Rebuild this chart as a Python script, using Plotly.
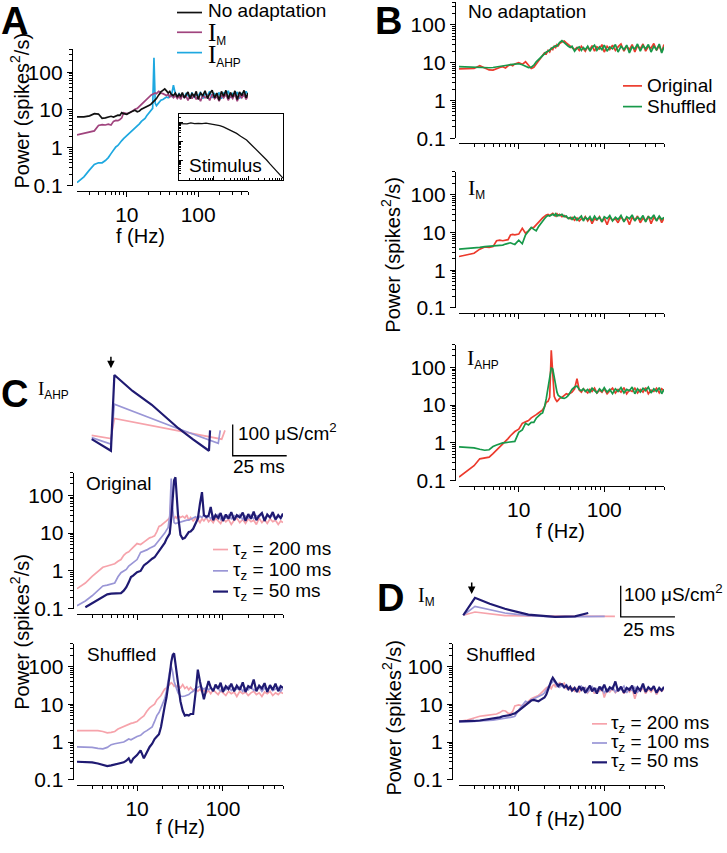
import numpy as np
import plotly.graph_objects as go

W, H = 727, 853
FONT = "Liberation Sans, Arial, Helvetica, sans-serif"

# ---------------- shared frequency grid (Hz) ----------------
FREQ = [2, 2.5, 3, 3.5, 4, 4.5, 5, 5.5, 6, 6.5,
        7, 7.5, 8, 8.5, 9, 10, 11, 12, 13, 14,
        15, 16, 17, 18, 19, 20, 21, 22, 23, 24,
        25, 26, 27, 28, 29, 30, 32, 34, 36, 38,
        40, 42, 45, 48, 51, 54, 57, 60, 64, 68,
        72, 77, 82, 88, 94, 100, 108, 116, 125, 135,
        145, 157, 170, 183, 197, 212, 228, 245, 264, 284,
        305, 328, 353, 380, 409, 440, 470, 500]

# ---------------- Panel A ----------------
A_NOADAPT = [6.6, 6.6, 7.0, 8.0, 7.8, 6.0, 6.2, 6.6, 6.8, 6.5,
             7.0, 7.3, 7.2, 8.5, 8.0, 7.7, 8.6, 9.2, 9.8, 9.0,
             9.4, 10.5, 11.0, 11.5, 12.0, 12.5, 13.5, 14.5, 15.5, 17.0,
             18.5, 20.0, 23.0, 25.0, 27.0, 30.0, 33.0, 36.0, 32.0, 28.0,
             31.0, 26.0, 24.0, 28.0, 22.0, 26.0, 23.0, 29.0, 21.0, 25.0,
             30.0, 20.0, 27.0, 23.0, 31.0, 19.0, 28.0, 24.0, 32.0, 20.0,
             27.0, 33.0, 21.0, 28.0, 18.0, 31.0, 23.0, 33.0, 20.0, 29.0,
             22.0, 32.0, 19.0, 30.0, 24.0, 33.0, 21.0, 28.0]
A_IM = [2.2, 2.4, 2.6, 2.8, 3.9, 4.1, 4.0, 4.2, 4.0, 5.0,
        5.3, 5.2, 5.6, 6.2, 8.4, 8.0, 8.4, 9.5, 10.5, 11.0,
        12.5, 14.5, 16.0, 17.5, 19.0, 21.0, 23.0, 25.0, 26.0, 27.0,
        28.0, 27.0, 29.0, 31.0, 30.0, 28.0, 27.0, 25.0, 24.0, 26.0,
        22.0, 25.0, 21.0, 24.0, 20.0, 23.0, 19.0, 25.0, 21.0, 23.0,
        18.0, 24.0, 20.0, 26.0, 19.0, 23.0, 17.0, 25.0, 21.0, 24.0,
        18.0, 26.0, 20.0, 23.0, 17.0, 25.0, 21.0, 26.0, 18.0, 24.0,
        20.0, 27.0, 17.0, 25.0, 21.0, 26.0, 19.0, 24.0]
A_IAHP = [0.12, 0.17, 0.26, 0.36, 0.40, 0.40, 0.46, 0.55, 0.70, 0.85,
          1.05, 1.15, 1.30, 1.55, 1.75, 2.1, 2.4, 2.8, 3.3, 3.7,
          4.3, 5.0, 5.4, 6.0, 7.0, 8.0, 9.0, 10.0, 11.0, 240.0,
          15.0, 13.0, 14.0, 16.0, 17.0, 18.0, 19.0, 20.0, 22.0, 21.0,
          24.0, 23.0, 45.0, 26.0, 22.0, 27.0, 23.0, 26.0, 21.0, 28.0,
          24.0, 22.0, 29.0, 21.0, 26.0, 23.0, 30.0, 20.0, 27.0, 24.0,
          31.0, 21.0, 27.0, 23.0, 29.0, 20.0, 28.0, 25.0, 32.0, 21.0,
          27.0, 24.0, 30.0, 20.0, 28.0, 23.0, 31.0, 25.0]

# inset: stimulus spectrum (arbitrary units)
STIM_F = [1, 1.3, 1.7, 2.2, 2.8, 3.6, 4.6, 6, 7.7, 10, 12, 15, 19, 23, 30, 38,
          46, 60, 75, 89, 110, 140, 174, 220, 270, 337, 420, 530, 658, 800, 1000]
STIM_P = [0.93, 0.95, 0.90, 1.02, 0.93, 0.96, 0.92, 0.97, 0.90, 0.88, 0.80,
          0.72, 0.62, 0.52, 0.42, 0.34, 0.28, 0.20, 0.155, 0.125, 0.085, 0.056,
          0.037, 0.024, 0.017, 0.011, 0.0068, 0.0042, 0.0027, 0.0018, 0.0012]

# ---------------- Panel B ----------------
B_NOAD_ORIG = [6.8, 6.8, 7.0, 8.3, 7.2, 6.4, 6.3, 7.0, 7.4, 7.8,
               7.2, 8.2, 8.8, 8.3, 9.2, 10.0, 9.0, 10.5, 8.5, 7.0,
               7.5, 9.5, 11.0, 13.0, 15.0, 18.0, 17.0, 21.0, 19.0, 24.0,
               22.0, 27.0, 25.0, 30.0, 28.0, 32.0, 35.0, 37.0, 33.0, 30.0,
               27.0, 24.0, 22.0, 25.0, 21.0, 27.0, 23.0, 20.0, 26.0, 22.0,
               28.0, 20.0, 26.0, 23.0, 30.0, 19.0, 27.0, 22.0, 29.0, 21.0,
               26.0, 31.0, 20.0, 27.0, 22.0, 30.0, 19.0, 28.0, 23.0, 31.0,
               20.0, 27.0, 24.0, 32.0, 21.0, 28.0, 19.0, 30.0]
B_NOAD_SHUF = [7.8, 7.6, 7.4, 7.2, 7.2, 7.3, 7.4, 7.6, 7.8, 8.0,
               8.3, 8.6, 8.8, 9.0, 9.2, 9.3, 8.8, 8.0, 7.4, 7.6,
               8.5, 10.5, 12.0, 14.0, 15.5, 17.0, 19.0, 20.0, 22.0, 23.0,
               25.0, 26.0, 28.0, 27.0, 31.0, 34.0, 38.0, 33.0, 30.0, 27.0,
               25.0, 27.0, 20.0, 24.0, 26.0, 21.0, 25.0, 22.0, 27.0, 20.0,
               25.0, 29.0, 21.0, 26.0, 22.0, 29.0, 20.0, 26.0, 23.0, 30.0,
               19.0, 27.0, 22.0, 29.0, 18.0, 26.0, 23.0, 31.0, 20.0, 28.0,
               23.0, 30.0, 19.0, 27.0, 22.0, 31.0, 18.0, 26.0]
B_IM_ORIG = [2.3, 2.6, 2.8, 3.6, 4.1, 4.0, 4.2, 6.0, 6.2, 6.0,
             6.3, 6.4, 8.5, 8.8, 8.6, 9.0, 12.8, 9.5, 11.0, 13.0,
             13.5, 15.5, 18.0, 21.0, 24.0, 27.0, 29.0, 30.0, 28.0, 30.0,
             32.0, 29.0, 27.0, 31.0, 28.0, 30.0, 26.0, 28.0, 25.0, 24.0,
             23.0, 25.0, 21.0, 24.0, 20.0, 23.0, 22.0, 26.0, 20.0, 24.0,
             17.0, 23.0, 21.0, 26.0, 19.0, 24.0, 16.0, 25.0, 21.0, 23.0,
             18.0, 26.0, 20.0, 24.0, 16.0, 25.0, 21.0, 27.0, 18.0, 24.0,
             20.0, 27.0, 17.0, 25.0, 21.0, 26.0, 18.0, 24.0]
B_IM_SHUF = [3.6, 3.7, 3.8, 4.0, 4.2, 4.3, 4.3, 4.3, 4.4, 4.6,
             4.9, 5.1, 5.3, 5.0, 4.8, 6.2, 5.0, 8.5, 11.0, 13.5,
             12.0, 11.0, 14.0, 17.0, 20.0, 23.0, 26.0, 28.0, 27.0, 29.0,
             30.0, 28.0, 31.0, 27.0, 29.0, 28.0, 30.0, 26.0, 27.0, 23.0,
             25.0, 22.0, 26.0, 21.0, 24.0, 27.0, 20.0, 25.0, 22.0, 26.0,
             20.0, 27.0, 22.0, 25.0, 19.0, 26.0, 23.0, 28.0, 20.0, 25.0,
             22.0, 28.0, 19.0, 26.0, 23.0, 29.0, 20.0, 25.0, 22.0, 28.0,
             19.0, 26.0, 23.0, 29.0, 20.0, 27.0, 22.0, 25.0]
B_IAHP_ORIG = [0.125, 0.18, 0.25, 0.38, 0.40, 0.42, 0.52, 0.64, 0.78, 0.95,
               1.15, 1.3, 1.55, 1.75, 2.0, 2.3, 3.3, 3.6, 3.9, 4.6,
               5.0, 5.6, 6.2, 6.8, 7.5, 9.0, 12.0, 12.5, 16.0, 280.0,
               60.0, 17.0, 14.0, 12.5, 13.5, 15.0, 16.0, 18.0, 20.0, 19.0,
               21.0, 22.0, 27.0, 50.0, 25.0, 22.0, 27.0, 24.0, 21.0, 26.0,
               23.0, 28.0, 21.0, 25.0, 22.0, 27.0, 20.0, 24.0, 28.0, 21.0,
               26.0, 22.0, 29.0, 20.0, 25.0, 23.0, 28.0, 21.0, 26.0, 22.0,
               29.0, 20.0, 25.0, 23.0, 28.0, 21.0, 27.0, 24.0]
B_IAHP_SHUF = [0.79, 0.78, 0.74, 0.68, 0.64, 0.66, 0.80, 0.88, 0.95, 1.0,
               1.02, 1.05, 1.05, 1.1, 1.1, 1.9, 2.2, 3.3, 3.0, 3.5,
               3.5, 4.5, 5.2, 5.8, 6.2, 9.0, 15.0, 30.0, 62.0, 95.0,
               90.0, 50.0, 30.0, 22.0, 18.0, 17.0, 15.5, 15.0, 16.0, 18.0,
               22.0, 26.0, 30.0, 32.0, 26.0, 24.0, 27.0, 23.0, 26.0, 22.0,
               28.0, 24.0, 21.0, 27.0, 23.0, 29.0, 22.0, 26.0, 20.0, 27.0,
               23.0, 29.0, 21.0, 26.0, 24.0, 30.0, 20.0, 27.0, 22.0, 28.0,
               24.0, 30.0, 21.0, 27.0, 23.0, 29.0, 20.0, 26.0]

# ---------------- Panel C (I_AHP, three tau_z) ----------------
C_ORIG_200 = [0.34, 0.48, 0.72, 1.0, 1.25, 1.35, 1.45, 1.55, 1.8, 2.0,
              2.6, 3.0, 3.2, 3.6, 4.2, 5.3, 5.0, 5.8, 6.8, 7.5,
              7.9, 8.5, 11.0, 15.0, 16.0, 18.0, 19.0, 21.0, 23.0, 26.0,
              80.0, 30.0, 24.0, 27.0, 25.0, 29.0, 26.0, 28.0, 25.0, 30.0,
              22.0, 26.0, 21.0, 25.0, 23.0, 19.0, 24.0, 21.0, 26.0, 20.0,
              23.0, 19.0, 25.0, 21.0, 18.0, 24.0, 20.0, 23.0, 17.0, 22.0,
              25.0, 19.0, 23.0, 18.0, 24.0, 20.0, 22.0, 17.0, 25.0, 19.0,
              23.0, 18.0, 24.0, 20.0, 22.0, 17.0, 21.0, 19.0]
C_ORIG_100 = [0.12, 0.16, 0.22, 0.30, 0.40, 0.42, 0.45, 0.48, 0.70, 0.90,
              1.0, 1.1, 1.35, 1.5, 1.6, 2.0, 3.1, 3.3, 3.6, 4.0,
              4.3, 4.6, 5.5, 6.5, 7.1, 8.5, 10.0, 12.0, 14.0, 28.0,
              280.0, 45.0, 19.0, 18.0, 18.5, 19.0, 20.0, 21.0, 22.0, 22.0,
              22.0, 23.0, 25.0, 27.0, 24.0, 28.0, 26.0, 30.0, 25.0, 28.0,
              24.0, 29.0, 26.0, 31.0, 23.0, 28.0, 25.0, 30.0, 24.0, 29.0,
              26.0, 31.0, 23.0, 28.0, 25.0, 30.0, 24.0, 29.0, 27.0, 32.0,
              24.0, 29.0, 26.0, 30.0, 23.0, 28.0, 25.0, 31.0]
C_ORIG_50 = [None, 0.11, 0.14, 0.17, 0.20, 0.24, 0.25, 0.25, 0.26, 0.26,
             0.30, 0.37, 0.50, 0.69, 0.75, 0.93, 1.0, 1.4, 1.6, 1.9,
             2.1, 2.3, 2.8, 3.5, 4.3, 4.8, 5.5, 7.0, 8.5, 9.7,
             25.0, 70.0, 250.0, 300.0, 90.0, 30.0, 9.0, 7.1, 7.5, 9.0,
             10.7, 11.0, 13.0, 18.0, 24.0, 60.0, 122.0, 30.0, 27.0, 29.0,
             49.0, 22.0, 30.0, 25.0, 34.0, 21.0, 31.0, 24.0, 36.0, 22.0,
             30.0, 26.0, 35.0, 21.0, 32.0, 24.0, 37.0, 22.0, 29.0, 34.0,
             21.0, 31.0, 26.0, 36.0, 23.0, 30.0, 25.0, 33.0]
C_SHUF_200 = [2.0, 2.0, 2.0, 2.0, 1.9, 1.75, 1.8, 1.9, 2.2, 2.4,
              2.5, 2.7, 3.0, 3.1, 3.2, 3.5, 4.2, 4.9, 6.5, 8.0,
              9.0, 10.0, 13.0, 15.0, 17.0, 21.0, 25.0, 27.0, 30.0, 33.0,
              37.0, 34.0, 30.0, 32.0, 28.0, 31.0, 27.0, 33.0, 26.0, 29.0,
              24.0, 28.0, 23.0, 26.0, 22.0, 25.0, 21.0, 24.0, 20.0, 23.0,
              19.0, 24.0, 21.0, 18.0, 23.0, 20.0, 17.0, 22.0, 19.0, 21.0,
              16.0, 22.0, 19.0, 21.0, 17.0, 20.0, 22.0, 18.0, 20.0, 16.0,
              21.0, 19.0, 22.0, 17.0, 20.0, 18.0, 21.0, 19.0]
C_SHUF_100 = [0.74, 0.74, 0.72, 0.68, 0.66, 0.72, 0.85, 0.90, 0.95, 0.98,
              1.0, 1.1, 1.2, 1.15, 1.25, 1.4, 1.5, 1.8, 2.0, 2.3,
              2.5, 3.5, 5.0, 6.0, 8.0, 11.0, 14.0, 22.0, 45.0, 74.0,
              100.0, 70.0, 40.0, 30.0, 24.0, 20.0, 16.5, 16.0, 16.5, 17.0,
              18.0, 20.0, 22.0, 26.0, 28.0, 30.0, 27.0, 25.0, 28.0, 24.0,
              27.0, 23.0, 29.0, 25.0, 22.0, 28.0, 24.0, 30.0, 23.0, 27.0,
              25.0, 29.0, 22.0, 27.0, 24.0, 30.0, 23.0, 26.0, 28.0, 22.0,
              27.0, 24.0, 29.0, 23.0, 26.0, 28.0, 22.0, 27.0]
C_SHUF_50 = [0.30, 0.30, 0.29, 0.27, 0.25, 0.23, 0.24, 0.25, 0.26, 0.27,
             0.29, 0.32, 0.37, 0.28, 0.36, 0.45, 0.6, 0.37, 0.55, 0.74,
             0.9, 1.2, 1.4, 1.6, 2.5, 5.5, 9.0, 15.0, 27.0, 60.0,
             130.0, 200.0, 222.0, 120.0, 50.0, 27.0, 12.0, 6.7, 5.0, 5.2,
             5.0, 5.5, 5.5, 20.0, 82.0, 40.0, 22.0, 13.5, 25.0, 41.0,
             28.0, 22.0, 33.0, 26.0, 37.0, 21.0, 30.0, 25.0, 35.0, 22.0,
             31.0, 24.0, 38.0, 21.0, 30.0, 27.0, 45.0, 22.0, 31.0, 26.0,
             36.0, 21.0, 32.0, 24.0, 35.0, 22.0, 30.0, 27.0]

# ---------------- Panel D (I_M, shuffled) ----------------
D_SHUF_200 = [3.5, 3.8, 4.3, 4.8, 5.0, 5.1, 5.3, 5.5, 6.0, 6.8,
              6.6, 5.8, 5.6, 6.5, 9.0, 9.6, 9.0, 10.0, 12.0, 14.0,
              15.0, 16.0, 17.0, 19.0, 22.0, 25.0, 27.0, 29.0, 30.0, 26.0,
              31.0, 33.0, 28.0, 35.0, 30.0, 38.0, 32.0, 36.0, 26.0, 29.0,
              24.0, 27.0, 22.0, 26.0, 21.0, 25.0, 23.0, 28.0, 20.0, 24.0,
              26.0, 19.0, 25.0, 22.0, 27.0, 15.0, 24.0, 21.0, 26.0, 20.0,
              23.0, 27.0, 19.0, 25.0, 21.0, 26.0, 14.0, 24.0, 22.0, 27.0,
              19.0, 25.0, 21.0, 26.0, 18.0, 24.0, 22.0, 25.0]
D_SHUF_100 = [3.4, 3.4, 3.5, 3.6, 3.6, 3.7, 3.8, 3.9, 4.0, 4.2,
              4.2, 4.4, 4.5, 4.6, 4.8, 7.0, 9.0, 12.0, 11.0, 13.0,
              14.0, 15.0, 16.0, 17.0, 18.0, 20.0, 24.0, 28.0, 32.0, 36.0,
              40.0, 42.0, 35.0, 30.0, 33.0, 28.0, 31.0, 27.0, 34.0, 25.0,
              28.0, 24.0, 27.0, 22.0, 26.0, 30.0, 23.0, 27.0, 21.0, 25.0,
              29.0, 22.0, 26.0, 24.0, 28.0, 20.0, 25.0, 23.0, 29.0, 21.0,
              26.0, 24.0, 30.0, 20.0, 27.0, 23.0, 28.0, 21.0, 25.0, 29.0,
              22.0, 27.0, 24.0, 28.0, 20.0, 26.0, 23.0, 27.0]
D_SHUF_50 = [3.5, 3.5, 3.6, 3.7, 3.9, 4.0, 4.1, 4.3, 4.5, 4.8,
             4.9, 5.0, 5.2, 5.5, 5.7, 6.8, 8.0, 9.6, 11.0, 12.5,
             13.0, 12.5, 12.0, 13.0, 14.0, 15.0, 18.0, 25.0, 32.0, 42.0,
             50.0, 44.0, 36.0, 32.0, 30.0, 33.0, 34.0, 28.0, 31.0, 25.0,
             29.0, 23.0, 27.0, 21.0, 30.0, 24.0, 28.0, 20.0, 26.0, 31.0,
             22.0, 27.0, 19.0, 29.0, 24.0, 33.0, 21.0, 28.0, 25.0, 40.0,
             22.0, 29.0, 20.0, 27.0, 24.0, 31.0, 19.0, 28.0, 23.0, 35.0,
             21.0, 28.0, 24.0, 30.0, 20.0, 27.0, 23.0, 29.0]

# ---------------- conductance traces (t in ms, g in uS/cm^2) ----------------
C_G_T_200 = [3.1, 12.0, 13.6, 63.3, 64.8]
C_G_200 = [65, 55, 119, 53, 81]
C_G_T_100 = [3.1, 12.0, 13.6, 41.7, 61.7, 62.6]
C_G_100 = [58, 37, 165, 90, 40, 81]
C_G_T_50 = [3.1, 12.0, 13.6, 22.0, 30.9, 43.2, 50.0, 57.4, 57.9]
C_G_50 = [53, 16, 258, 207, 163, 88, 52, 16, 81]
C_SPIKE_T, C_SPIKE_G = 12.0, 280

D_G_T_200 = [3.8, 9.2, 23.0, 40.0, 73.7]
D_G_200 = [5.4, 15.8, 4.2, 2.5, 2.1]
D_G_T_100 = [3.8, 9.2, 23.0, 33.8, 46.1, 69.0]
D_G_100 = [5.4, 33.8, 12.6, 4.2, 0.5, 2.1]
D_G_T_50 = [3.8, 9.2, 16.0, 23.0, 33.8, 46.1, 55.3, 61.4]
D_G_50 = [5.4, 61, 42, 26, 7.4, 0, 2, 12.6]
D_SPIKE_T, D_SPIKE_G = 7.7, 73.5

SCALE_MS = 25
SCALE_G = 100

# ---------------- styling ----------------
BLACK = "#111111"
MAGENTA = "#a0447e"
CYAN = "#1ea8e0"
RED = "#ec3a2c"
GREEN = "#17994a"
PINK = "#f6a3ab"
LAVENDER = "#9a96d6"
NAVY = "#1f1a72"

XMAJ = [10, 100]
XMINOR = [3, 4, 5, 6, 7, 8, 9, 20, 30, 40, 50, 60, 70, 80, 90, 200, 300, 400, 500]
YMAJ = [0.1, 1, 10, 100]
YMINOR = [0.2, 0.3, 0.4, 0.5, 0.6, 0.7, 0.8, 0.9, 2, 3, 4, 5, 6, 7, 8, 9,
          20, 30, 40, 50, 60, 70, 80, 90, 200, 300, 400]

fig = go.Figure()


def px(x):
    return x / W


def py(y):
    return 1 - y / H


LOGX = [np.log10(2), np.log10(500)]
LOGY = [-1, np.log10(400)]
DEC = 38.3


def key(n, a):
    return a + "axis" + ("" if n == 1 else str(n))


def spec_axes(n, x0, x1, ybot, yline_x, xline_y, xlabels):
    ytop = ybot - (LOGY[1] - LOGY[0]) * DEC
    xa = dict(type="log", range=LOGX, domain=[px(x0), px(x1)], anchor="free",
              position=py(xline_y), showline=True, linecolor="black", linewidth=1.3,
              ticks="outside", ticklen=5, tickwidth=1.2, tickcolor="black",
              tickmode="array", tickvals=XMAJ, ticktext=["10", "100"],
              showticklabels=xlabels, tickfont=dict(size=21, color="black", family=FONT),
              showgrid=False, zeroline=False,
              minor=dict(tickmode="array", tickvals=XMINOR, ticks="outside", ticklen=3,
                         tickcolor="black", tickwidth=1, showgrid=False))
    ya = dict(type="log", range=LOGY, domain=[py(ybot), py(ytop)], anchor="free",
              position=px(yline_x), showline=True, linecolor="black", linewidth=1.3,
              ticks="outside", ticklen=5, tickwidth=1.2, tickcolor="black",
              tickmode="array", tickvals=YMAJ, ticktext=["0.1", "1", "10", "100"],
              tickfont=dict(size=21, color="black", family=FONT),
              showgrid=False, zeroline=False,
              minor=dict(tickmode="array", tickvals=YMINOR, ticks="outside", ticklen=3,
                         tickcolor="black", tickwidth=1, showgrid=False))
    fig.update_layout(**{key(n, "x"): xa, key(n, "y"): ya})


def add_line(n, x, y, color, width=1.7):
    sfx = "" if n == 1 else str(n)
    fig.add_trace(go.Scatter(x=x, y=y, mode="lines", line=dict(color=color, width=width),
                             xaxis="x" + sfx, yaxis="y" + sfx, hoverinfo="skip"))


def text(x, y, s, size=19, xanchor="left", yanchor="middle", angle=0, bold=False, family=FONT):
    if bold:
        s = "<b>" + s + "</b>"
    fig.add_annotation(x=px(x), y=py(y), xref="paper", yref="paper", text=s,
                       showarrow=False, xanchor=xanchor, yanchor=yanchor, textangle=angle,
                       font=dict(size=size, color="black", family=family))


def legline(x0, x1, y, color, width=1.7):
    fig.add_shape(type="line", xref="paper", yref="paper", x0=px(x0), x1=px(x1),
                  y0=py(y), y1=py(y), line=dict(color=color, width=width))


def curr(sub, isize):
    return ('<span style="font-family:Liberation Serif, Times New Roman, serif; font-size:%dpx">I</span>'
            '<sub>%s</sub>' % (isize, sub))


# ---------------- axes ----------------
spec_axes(1, 77, 248, 188, 72, 193, True)       # A
spec_axes(3, 459, 664, 140, 455, 145, False)    # B no adaptation
spec_axes(4, 459, 664, 312, 455, 317, False)    # B I_M
spec_axes(5, 459, 664, 487, 455, 492, True)     # B I_AHP
spec_axes(7, 77, 283, 616.7, 72.7, 621.7, False)  # C original
spec_axes(8, 77, 283, 790, 72.7, 795, True)     # C shuffled
spec_axes(10, 459, 664, 790, 452, 795, True)    # D shuffled

# inset (A)
fig.update_layout(
    xaxis2=dict(type="log", range=[0, 3], domain=[px(179), px(283)], anchor="y2",
                showline=True, mirror=True, linecolor="black", linewidth=1,
                ticks="inside", ticklen=4, tickcolor="black", tickvals=[1, 10, 100, 1000],
                showticklabels=False, showgrid=False, zeroline=False,
                minor=dict(tickmode="array", tickvals=[2, 3, 4, 5, 6, 7, 8, 9, 20, 30, 40, 50, 60, 70, 80, 90,
                                                       200, 300, 400, 500, 600, 700, 800, 900],
                           ticks="inside", ticklen=2, tickcolor="black")),
    yaxis2=dict(type="log", range=[-3, 0.5], domain=[py(182), py(115)], anchor="x2",
                showline=True, mirror=True, linecolor="black", linewidth=1,
                ticks="inside", ticklen=4, tickcolor="black", tickvals=[0.001, 0.01, 0.1, 1],
                showticklabels=False, showgrid=False, zeroline=False,
                minor=dict(tickmode="array",
                           tickvals=[0.002, 0.003, 0.004, 0.005, 0.006, 0.007, 0.008, 0.009,
                                     0.02, 0.03, 0.04, 0.05, 0.06, 0.07, 0.08, 0.09,
                                     0.2, 0.3, 0.4, 0.5, 0.6, 0.7, 0.8, 0.9, 2, 3],
                           ticks="inside", ticklen=2, tickcolor="black")),
)

# conductance trace axes (hidden)
fig.update_layout(
    xaxis6=dict(range=[0, 215 / 2.16], domain=[px(85), px(300)], anchor="y6", visible=False),
    yaxis6=dict(range=[(461.7 - 470) / 0.317, (461.7 - 355) / 0.317], domain=[py(470), py(355)],
                anchor="x6", visible=False),
    xaxis9=dict(range=[0, 235 / 2.17], domain=[px(455), px(690)], anchor="y9", visible=False),
    yaxis9=dict(range=[(625 - 640) / 0.317, (625 - 580) / 0.317], domain=[py(640), py(580)],
                anchor="x9", visible=False),
)

# ---------------- traces ----------------
add_line(1, FREQ, A_IAHP, CYAN)
add_line(1, FREQ, A_IM, MAGENTA)
add_line(1, FREQ, A_NOADAPT, BLACK)
add_line(2, STIM_F, STIM_P, BLACK, 1.3)

for n, o, s in [(3, B_NOAD_ORIG, B_NOAD_SHUF), (4, B_IM_ORIG, B_IM_SHUF), (5, B_IAHP_ORIG, B_IAHP_SHUF)]:
    add_line(n, FREQ, o, RED)
    add_line(n, FREQ, s, GREEN)

add_line(7, FREQ, C_ORIG_200, PINK)
add_line(7, FREQ, C_ORIG_100, LAVENDER)
add_line(7, FREQ, C_ORIG_50, NAVY, 2.2)
add_line(8, FREQ, C_SHUF_200, PINK)
add_line(8, FREQ, C_SHUF_100, LAVENDER)
add_line(8, FREQ, C_SHUF_50, NAVY, 2.2)
add_line(10, FREQ, D_SHUF_200, PINK)
add_line(10, FREQ, D_SHUF_100, LAVENDER)
add_line(10, FREQ, D_SHUF_50, NAVY, 2.2)

add_line(6, C_G_T_200, C_G_200, PINK)
add_line(6, C_G_T_100, C_G_100, LAVENDER)
add_line(6, C_G_T_50, C_G_50, NAVY, 2.2)
add_line(9, D_G_T_200, D_G_200, PINK)
add_line(9, D_G_T_100, D_G_100, LAVENDER)
add_line(9, D_G_T_50, D_G_50, NAVY, 2.2)

# scale bars
C_BAR_T0 = (232.7 - 85) / 2.16
add_line(6, [C_BAR_T0, C_BAR_T0, C_BAR_T0 + SCALE_MS], [SCALE_G, 0, 0], "black", 1.3)
D_BAR_T0 = (620.7 - 455) / 2.17
add_line(9, [D_BAR_T0, D_BAR_T0, D_BAR_T0 + SCALE_MS], [SCALE_G, 0, 0], "black", 1.3)

# spike arrows
for xr, t, g in [("6", C_SPIKE_T, C_SPIKE_G), ("9", D_SPIKE_T, D_SPIKE_G)]:
    fig.add_annotation(x=t, y=g, xref="x" + xr, yref="y" + xr, ax=0, ay=-13, text="",
                       showarrow=True, arrowhead=2, arrowsize=1, arrowwidth=1.5, arrowcolor="black")

# ---------------- text ----------------
text(14, 21, "A", 38, "center", bold=True)
text(388, 21, "B", 38, "center", bold=True)
text(14, 399, "C", 38, "center", bold=True)
text(390, 606, "D", 38, "center", bold=True)

# A legend
legline(177, 202, 12.7, BLACK)
legline(177, 202, 32.7, MAGENTA)
legline(177, 202, 53.3, CYAN)
text(206, 11, "No adaptation")
text(206, 34, curr("M", 25), 17)
text(206, 56, curr("AHP", 25), 17)
text(187, 168, "Stimulus")
text(20, 112, "Power (spikes<sup>2</sup>/s)", 20, "center", angle=-90)
text(140, 239, "f (Hz)", 20, "center")

# B
text(466, 12, "No adaptation")
text(466, 191, curr("M", 22), 17)
text(465, 363, curr("AHP", 22), 17)
legline(623, 642, 87, RED)
legline(623, 642, 108, GREEN)
text(645, 87, "Original")
text(645, 108, "Shuffled")
text(391, 258, "Power (spikes<sup>2</sup>/s)", 20, "center", angle=-90)
text(560, 538, "f (Hz)", 20, "center")

# C
text(36, 395, curr("AHP", 19), 17)
text(236, 438, "100 \u03bcS/cm<sup>2</sup>")
text(231, 473, "25 ms")
text(84, 490, "Original")
text(85, 663, "Shuffled")
legline(213, 228, 556.7, PINK)
legline(213, 228, 578.3, LAVENDER)
legline(213, 228, 599.3, NAVY, 2.2)
text(231, 556.7, "\u03c4<sub>z</sub> = 200 ms")
text(231, 578.3, "\u03c4<sub>z</sub> = 100 ms")
text(231, 599.3, "\u03c4<sub>z</sub> = 50 ms")
text(20, 640, "Power (spikes<sup>2</sup>/s)", 20, "center", angle=-90)
text(180, 838, "f (Hz)", 20, "center")

# D
text(416, 604, curr("M", 20), 17)
text(622, 601, "100 \u03bcS/cm<sup>2</sup>")
text(621, 638, "25 ms")
text(464, 663, "Shuffled")
legline(592, 607, 733.3, PINK)
legline(592, 607, 752.7, LAVENDER)
legline(592, 607, 772.3, NAVY, 2.2)
text(609, 733.3, "\u03c4<sub>z</sub> = 200 ms")
text(609, 752.7, "\u03c4<sub>z</sub> = 100 ms")
text(609, 772.3, "\u03c4<sub>z</sub> = 50 ms")
text(392, 727, "Power (spikes<sup>2</sup>/s)", 20, "center", angle=-90)
text(560, 830, "f (Hz)", 20, "center")

fig.update_layout(width=W, height=H, autosize=False, margin=dict(l=0, r=0, t=0, b=0),
                  paper_bgcolor="white", plot_bgcolor="rgba(0,0,0,0)", showlegend=False,
                  font=dict(family=FONT, color="black"))

fig.write_html("out.html", config={"displayModeBar": False},
               post_script="document.body.style.margin='0';document.body.style.padding='0';"
                           "document.documentElement.style.overflow='hidden';")
